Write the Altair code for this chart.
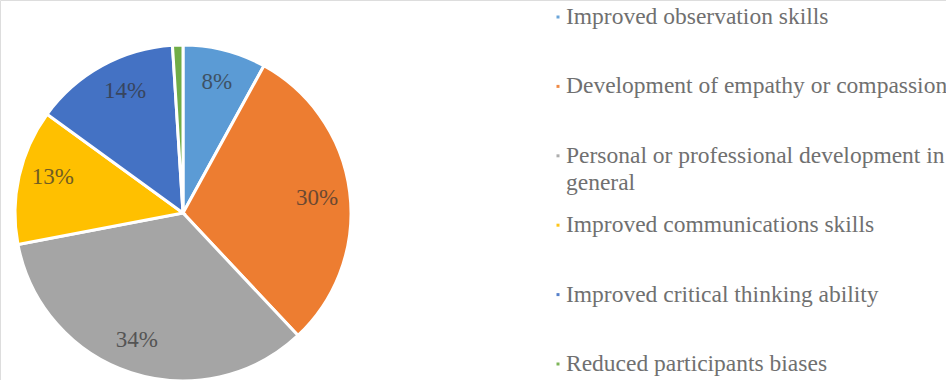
import altair as alt
import pandas as pd

categories = [
    "Improved observation skills",
    "Development of empathy or compassion",
    "Personal or professional development in general",
    "Improved communications skills",
    "Improved critical thinking ability",
    "Reduced participants biases",
]
legend_text = [
    "Improved observation skills",
    "Development of empathy or compassion",
    "Personal or professional development in\ngeneral",
    "Improved communications skills",
    "Improved critical thinking ability",
    "Reduced participants biases",
]
values = [8, 30, 34, 13, 14, 1]
labels = ["8%", "30%", "34%", "13%", "14%", "1%"]
colors = ["#5B9BD5", "#ED7D31", "#A5A5A5", "#FFC000", "#4472C4", "#70AD47"]

df = pd.DataFrame({
    "cat": categories,
    "legend": legend_text,
    "value": values,
    "label": labels,
    "order": list(range(len(categories))),
})

CX, CY, R = 183, 213, 168
SERIF = "Liberation Serif"

color = alt.Color("cat:N", scale=alt.Scale(domain=categories, range=colors), legend=None)
theta = alt.Theta("value:Q", stack=True, scale=alt.Scale(range=[0, 6.2832]))
order = alt.Order("order:Q")

base = alt.Chart(df)

arcs = base.mark_arc(radius=R, stroke="white", strokeWidth=3).encode(
    theta=theta, color=color, order=order,
    x=alt.value(CX), y=alt.value(CY),
)

labels_in = base.transform_filter("datum.value >= 5").mark_text(
    radius=135, font=SERIF, fontSize=23, color="#333333", opacity=0.7
).encode(
    theta=theta, text="label:N", order=order,
    x=alt.value(CX), y=alt.value(CY),
)

labels_out = base.transform_filter("datum.value < 5").mark_text(
    radius=186, font=SERIF, fontSize=23, color="#595959", opacity=0.8
).encode(
    theta=theta, text="label:N", order=order,
    x=alt.value(CX), y=alt.value(CY),
)

ypos = alt.Y("cat:N", sort=categories, axis=None,
             scale=alt.Scale(type="point", domain=categories, range=[17, 364], padding=0))

bullets = base.mark_square(size=9, opacity=0.9).encode(
    x=alt.value(558), y=ypos, color=color,
)

legend_labels = base.mark_text(
    align="left", baseline="alphabetic", dy=7, lineBreak="\n", lineHeight=27,
    font=SERIF, fontSize=23.5, color="#707070",
).encode(
    x=alt.value(566), y=ypos, text="legend:N",
)

chart = alt.layer(arcs, labels_in, labels_out, bullets, legend_labels).resolve_scale(
    theta="independent"
).properties(
    width=946, height=380, padding=0, autosize=alt.AutoSizeParams(type="none")
).configure_view(stroke=None).configure(background="white")

chart.save("out.html", embed_options={"renderer": "svg", "actions": False})
